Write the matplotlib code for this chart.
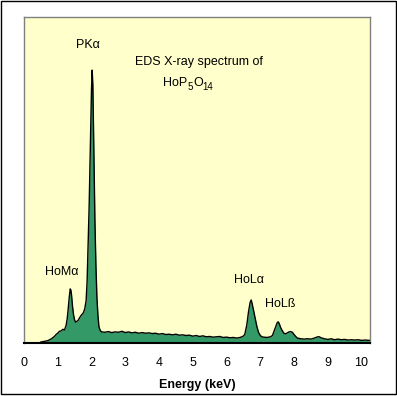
import matplotlib
matplotlib.use('Agg')
import matplotlib.pyplot as plt
from matplotlib.patches import Rectangle

plt.rcParams['font.family'] = ['Liberation Sans', 'DejaVu Sans']

# spectrum (energy in keV, counts in % of axis height)
energy = [0.0, 0.45, 0.5, 0.6, 0.7, 0.8, 0.9, 0.95, 1.0, 1.05, 1.1, 1.15, 1.2,
          1.25, 1.28, 1.31, 1.34, 1.37, 1.39, 1.41, 1.44, 1.47, 1.5, 1.53,
          1.56, 1.6, 1.64, 1.68, 1.72, 1.76, 1.8, 1.84, 1.87, 1.9, 1.93, 1.96,
          1.98, 2.0, 2.02, 2.04, 2.06, 2.08, 2.1, 2.13, 2.16, 2.19, 2.22, 2.26,
          2.3, 2.4, 2.5, 2.6, 2.7, 2.8, 2.9, 3.0, 3.1, 3.2, 3.3, 3.4, 3.5, 3.6,
          3.7, 3.8, 3.9, 4.0, 4.1, 4.2, 4.3, 4.4, 4.5, 4.6, 4.7, 4.8, 4.9, 5.0,
          5.1, 5.2, 5.3, 5.4, 5.5, 5.6, 5.7, 5.8, 5.9, 6.0, 6.1, 6.2, 6.3, 6.4,
          6.48, 6.54, 6.6, 6.65, 6.7, 6.73, 6.76, 6.8, 6.85, 6.9, 6.95, 7.0,
          7.05, 7.1, 7.2, 7.3, 7.36, 7.4, 7.45, 7.5, 7.53, 7.56, 7.6, 7.65, 7.7,
          7.75, 7.8, 7.85, 7.9, 7.95, 8.0, 8.05, 8.1, 8.2, 8.3, 8.4, 8.5, 8.6,
          8.7, 8.75, 8.8, 8.9, 9.0, 9.1, 9.2, 9.3, 9.4, 9.5, 9.6, 9.7, 9.8, 9.9,
          10.0, 10.1, 10.25]
counts = [0, 0, 0.3, 0.5, 0.7, 1.2, 2.0, 2.6, 3.0, 3.6, 3.7, 4.2, 4.0,
          5.5, 7.5, 10.5, 14, 16.6, 16.2, 14.5, 11, 8.5, 7.0, 6.4,
          6.6, 6.9, 7.6, 8.3, 8.8, 9.3, 10.5, 13, 19, 30, 42, 58,
          70, 78, 83.7, 79, 65, 52, 38, 24, 14, 8.5, 5.0, 3.8,
          3.4, 3.3, 3.5, 3.2, 3.4, 3.3, 3.6, 3.2, 3.4, 3.1, 3.3, 3.0, 3.2, 3.0,
          3.1, 2.9, 3.0, 2.7, 2.9, 2.6, 2.7, 2.5, 2.7, 2.4, 2.5, 2.3, 2.4, 2.1,
          2.3, 2.0, 2.2, 1.9, 2.0, 1.8, 1.9, 2.0, 1.7, 1.8, 1.6, 1.7, 1.5, 1.7,
          2.0, 2.6, 5.5, 9.5, 12.5, 13.2, 12, 10, 7.5, 5, 3.2, 2.3,
          1.9, 1.8, 1.7, 1.9, 2.3, 3.4, 4.8, 6.2, 6.5, 6.0, 4.8, 3.8, 3.0,
          2.8, 3.1, 3.4, 3.5, 3.3, 2.6, 2.0, 1.5, 1.3, 1.2, 1.3, 1.2, 1.5,
          1.9, 1.9, 1.6, 1.3, 1.1, 1.3, 1.0, 1.2, 1.0, 1.1, 0.9, 1.0, 0.9, 1.0,
          0.8, 0.9, 0.8]

xticks = list(range(0, 11))

peak_labels = ['PK\u03b1', 'HoM\u03b1', 'HoL\u03b1', 'HoL\u00df']
peak_label_x = [1.90, 1.12, 6.68, 7.59]
peak_label_y = [91.4, 21.9, 19.3, 12.0]

W, H = 397, 396
fig = plt.figure(figsize=(W / 100, H / 100), dpi=100)
fig.patch.set_facecolor('white')
ax = fig.add_axes([24 / W, (H - 343) / H, 346 / W, 326 / H])
ax.set_facecolor('#FFFFCC')

ax.fill_between(energy, counts, 0, color='#339966', linewidth=0)
ax.plot(energy, counts, color='black', linewidth=1.0)

ax.set_xlim(0, 10.25)
ax.set_ylim(0, 100)
ax.set_xticks(xticks)
ax.set_xticklabels([str(t) for t in xticks], fontsize=9)
ax.set_yticks([])
ax.tick_params(axis='x', length=0, pad=10)
ax.set_xlabel('Energy (keV)', fontsize=9, fontweight='bold', labelpad=7)

for side in ['top', 'left', 'right']:
    ax.spines[side].set_color('#808080')
    ax.spines[side].set_linewidth(1.0)
ax.spines['bottom'].set_color('black')
ax.spines['bottom'].set_linewidth(1.5)

for lab, x, y in zip(peak_labels, peak_label_x, peak_label_y):
    ax.text(x, y, lab, fontsize=9, ha='center', va='center')

ax.text(3.29, 86.2, 'EDS X-ray spectrum of', fontsize=9, ha='left', va='center')

# formula written piece by piece so the subscripts keep a readable size
t = ax.text(4.13, 78.0, 'HoP', fontsize=9, ha='left', va='bottom')
t = ax.annotate('5', xy=(1, 0), xycoords=t, xytext=(0, -2.2),
                textcoords='offset points', fontsize=7, ha='left', va='bottom')
t = ax.annotate('O', xy=(1, 0), xycoords=t, xytext=(0, 2.2),
                textcoords='offset points', fontsize=9, ha='left', va='bottom')
ax.annotate('14', xy=(1, 0), xycoords=t, xytext=(0, -2.2),
            textcoords='offset points', fontsize=7, ha='left', va='bottom')

# outer frame round the whole picture
fig.add_artist(Rectangle((0.5 / W, 1 - 393.5 / H), 395 / W, 393 / H,
                         transform=fig.transFigure, fill=False,
                         edgecolor='black', linewidth=1.0))

fig.savefig('out.png', dpi=100)
